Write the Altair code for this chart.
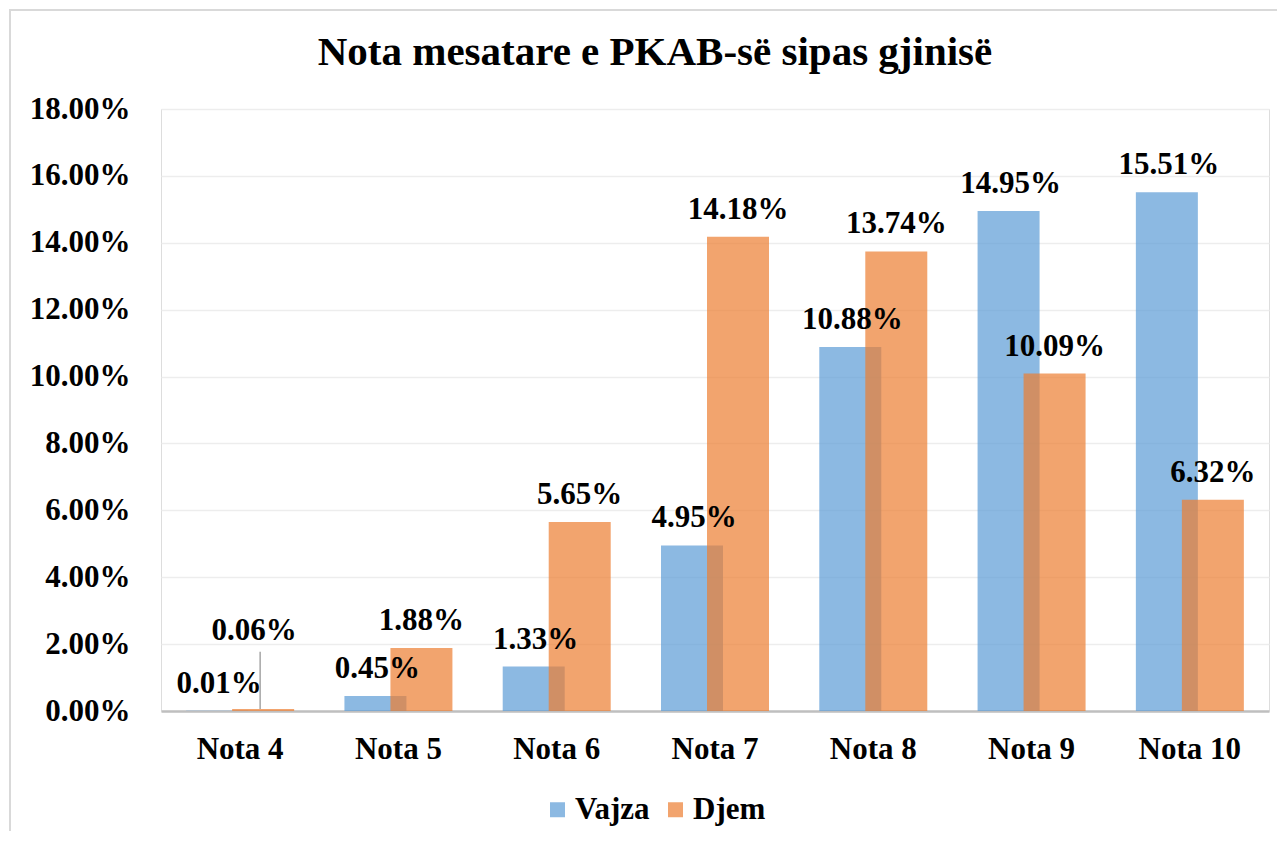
import altair as alt
import pandas as pd

categories = ["Nota 4", "Nota 5", "Nota 6", "Nota 7", "Nota 8", "Nota 9", "Nota 10"]
vajza = [0.01, 0.45, 1.33, 4.95, 10.88, 14.95, 15.51]
djem = [0.06, 1.88, 5.65, 14.18, 13.74, 10.09, 6.32]
series = ["Vajza", "Djem"]
colors = ["#5B9BD5", "#ED7D31"]
y_ticks = [0, 2, 4, 6, 8, 10, 12, 14, 16, 18]
title_text = "Nota mesatare e PKAB-së sipas gjinisë"

rows = []
for c, a, b in zip(categories, vajza, djem):
    rows.append({"cat": c, "g": "Vajza", "v": a})
    rows.append({"cat": c, "g": "Djem", "v": b})
df = pd.DataFrame(rows)

FONT = "Liberation Serif"
FS = 31

base = alt.Chart(df).transform_calculate(
    label="format(datum.v, '.2f') + '%'",
    lifted="datum.g == 'Djem' && datum.v < 0.5 ? 1 : 0",
    label_y="datum.g == 'Djem' && datum.v < 0.5 ? datum.v + 1.52 : datum.v",
    line_top="datum.v + 1.71",
)

x_enc = alt.X(
    "cat:N",
    sort=categories,
    scale=alt.Scale(domain=categories, paddingInner=0, paddingOuter=0),
    axis=alt.Axis(
        title=None, labelAngle=0, ticks=False, grid=False,
        domainColor="#BFBFBF", domainWidth=2.5,
        labelFont=FONT, labelFontSize=FS, labelFontWeight="bold", labelColor="black",
        labelBaseline="alphabetic", labelPadding=47,
    ),
)
y_scale = alt.Scale(domain=[0, 18], nice=False)
y_enc = alt.Y(
    "v:Q",
    scale=y_scale,
    axis=alt.Axis(
        title=None, values=y_ticks, labelExpr="format(datum.value, '.2f') + '%'",
        domain=False, ticks=False, gridColor="#EDEDED", gridWidth=1.5,
        labelFont=FONT, labelFontSize=FS, labelFontWeight="bold", labelColor="black",
        labelPadding=31, labelBaseline="middle",
    ),
)
legend = alt.Legend(
    title=None, orient="none", legendX=381, legendY=685, direction="horizontal",
    symbolType="square", symbolSize=225, symbolStrokeWidth=0, symbolOpacity=0.7,
    labelFont=FONT, labelFontSize=FS, labelFontWeight="bold", labelColor="black",
    labelOffset=2, columnPadding=10, padding=0,
)
color_enc = alt.Color("g:N", scale=alt.Scale(domain=series, range=colors), legend=legend)

bars_v = base.transform_filter("datum.g == 'Vajza'").mark_bar(
    width=62, xOffset=-23, opacity=0.7
).encode(x=x_enc, y=y_enc, color=color_enc)
bars_d = base.transform_filter("datum.g == 'Djem'").mark_bar(
    width=62, xOffset=23, opacity=0.7
).encode(x=x_enc, y=y_enc, color=color_enc)

txt_kw = dict(font=FONT, fontSize=FS, fontWeight="bold", color="black",
              baseline="alphabetic", align="center", dy=-18)
lab_v = base.transform_filter("datum.g == 'Vajza'").mark_text(xOffset=-21, **txt_kw).encode(
    x=alt.X("cat:N", sort=categories), y=alt.Y("label_y:Q", scale=y_scale), text="label:N")
lab_d = base.transform_filter("datum.g == 'Djem' && datum.lifted == 0").mark_text(xOffset=23, **txt_kw).encode(
    x=alt.X("cat:N", sort=categories), y=alt.Y("label_y:Q", scale=y_scale), text="label:N")
lab_lift = base.transform_filter("datum.lifted == 1").mark_text(xOffset=14, **txt_kw).encode(
    x=alt.X("cat:N", sort=categories), y=alt.Y("label_y:Q", scale=y_scale), text="label:N")
leader = base.transform_filter("datum.lifted == 1").mark_rule(
    xOffset=20, color="#A6A6A6", strokeWidth=1.5
).encode(x=alt.X("cat:N", sort=categories), y=alt.Y("line_top:Q", scale=y_scale), y2="v:Q")

one = pd.DataFrame({"t": [title_text]})
title = alt.Chart(one).mark_text(
    font=FONT, fontSize=41, fontWeight="bold", color="black",
    align="center", baseline="alphabetic"
).encode(x=alt.value(494), y=alt.value(-44), text="t:N")

frame_left = alt.Chart(one).mark_rule(color="#D9D9D9", strokeWidth=2).encode(
    x=alt.value(-151), y=alt.value(-99), y2=alt.value(740))
frame_top = alt.Chart(one).mark_rule(color="#D9D9D9", strokeWidth=2).encode(
    x=alt.value(-152), x2=alt.value(1130), y=alt.value(-99))

chart = alt.layer(
    frame_left, frame_top, bars_v, bars_d, lab_v, lab_d, lab_lift, leader, title
).properties(
    width=1108, height=602,
    autosize=alt.AutoSizeParams(type="none"),
    padding={"left": 153, "top": 101, "right": 8, "bottom": 120},
).configure_view(stroke=None).configure(background="white")

chart.save("out.html", embed_options={"renderer": "svg", "actions": False})
